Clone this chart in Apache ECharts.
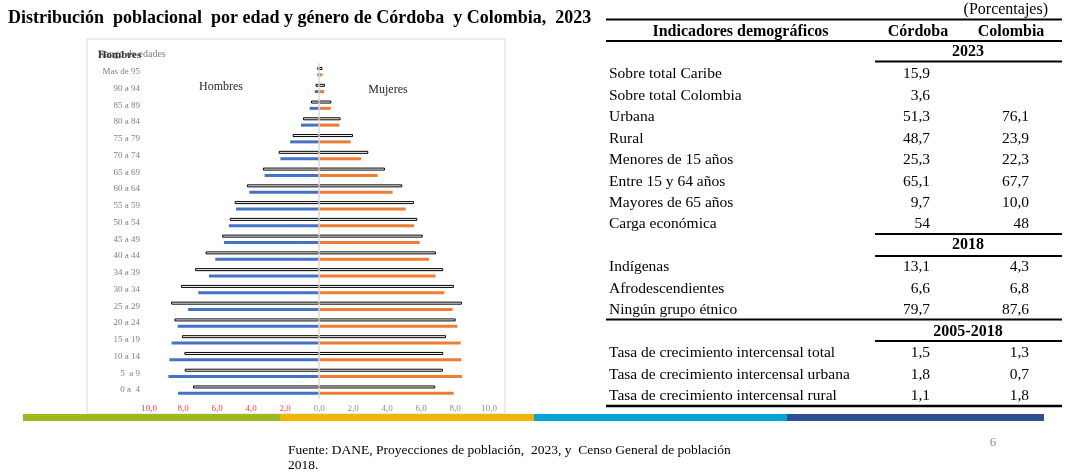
<!DOCTYPE html>
<html>
<head>
<meta charset="utf-8">
<script src="https://cdn.jsdelivr.net/npm/echarts@6/dist/echarts.min.js"></script>
<style>
html,body{margin:0;padding:0;background:#fff;}
#c{width:1076px;height:472px;}
</style>
</head>
<body>
<div id="c"></div>
<script>
// ---- Pyramid data (bottom to top) ----
const ageGroups = ['0 a  4','5  a 9','10 a 14','15 a 19','20 a 24','25 a 29','30 a 34','34 a 39','40 a 44','45 a 49','50 a 54','55 a 59','60 a 64','65 a 69','70 a 74','75 a 79','80 a 84','85 a 89','90 a 94','Mas de 95'];
const menColombia   = [7.41, 7.90, 7.92, 8.06, 8.50, 8.70, 8.12, 7.29, 6.67, 5.70, 5.25, 4.96, 4.24, 3.30, 2.37, 1.55, 0.94, 0.47, 0.20, 0.10];
const menCordoba    = [8.29, 8.86, 8.80, 8.67, 8.31, 7.70, 7.10, 6.47, 6.10, 5.59, 5.30, 4.88, 4.10, 3.20, 2.27, 1.70, 1.06, 0.55, 0.25, 0.10];
const womenColombia = [6.84, 7.29, 7.31, 7.47, 8.04, 8.41, 7.94, 7.31, 6.88, 6.10, 5.78, 5.59, 4.90, 3.88, 2.90, 2.00, 1.27, 0.73, 0.35, 0.20];
const womenCordoba  = [7.92, 8.41, 8.37, 8.33, 8.14, 7.86, 7.37, 6.86, 6.47, 5.92, 5.59, 5.10, 4.33, 3.45, 2.47, 1.86, 1.20, 0.69, 0.30, 0.20];

// ---- Table data ----
const tableHeader = ['Indicadores demográficos', 'Córdoba', 'Colombia'];
const section2023 = '2023';
const rows2023 = ['Sobre total Caribe','Sobre total Colombia','Urbana','Rural','Menores de 15 años','Entre 15 y 64 años','Mayores de 65 años','Carga económica'];
const cordoba2023 = ['15,9','3,6','51,3','48,7','25,3','65,1','9,7','54'];
const colombia2023 = ['','','76,1','23,9','22,3','67,7','10,0','48'];
const section2018 = '2018';
const rows2018 = ['Indígenas','Afrodescendientes','Ningún grupo étnico'];
const cordoba2018 = ['13,1','6,6','79,7'];
const colombia2018 = ['4,3','6,8','87,6'];
const sectionTasa = '2005-2018';
const rowsTasa = ['Tasa de crecimiento intercensal total','Tasa de crecimiento intercensal urbana','Tasa de crecimiento intercensal rural'];
const cordobaTasa = ['1,5','1,8','1,1'];
const colombiaTasa = ['1,3','0,7','1,8'];

const titleText = 'Distribución  poblacional  por edad y género de Córdoba  y Colombia,  2023';
const unitText = '(Porcentajes)';
const sourceLines = ['Fuente: DANE, Proyecciones de población,  2023, y  Censo General de población', '2018.'];
const pageNumber = '6';

// ---- layout ----
const SERIF = '"Liberation Serif", "Times New Roman", serif';
const g = [];
function txt(x, y, s, opt) {
  opt = opt || {};
  g.push({
    type: 'text', x: x, y: y, z: opt.z || 10, silent: true,
    style: {
      text: s,
      font: (opt.weight || 'normal') + ' ' + (opt.size || 15.5) + 'px ' + SERIF,
      fill: opt.color || '#000',
      textAlign: opt.align || 'left', align: opt.align || 'left',
      textVerticalAlign: 'middle', verticalAlign: 'middle'
    }
  });
}
function hline(x1, x2, y, w) {
  g.push({type:'line', z: 10, silent:true, shape:{x1:x1, y1:y, x2:x2, y2:y}, style:{stroke:'#000', lineWidth:w || 2}});
}

// chart frame
g.push({type:'rect', z:-5, silent:true, shape:{x:87, y:39, width:418, height:375}, style:{fill:'#fff', stroke:'#d9d9d9', lineWidth:1}});
// bottom stripes
const stripeColors = ['#9dbb1f', '#f1b400', '#06a5d8', '#2f4f93'];
const stripeX = [23, 280, 534, 787, 1044];
stripeColors.forEach(function(c, i){
  g.push({type:'rect', z:20, silent:true, shape:{x:stripeX[i], y:414, width:stripeX[i+1]-stripeX[i], height:7}, style:{fill:c}});
});

// Title
txt(8, 18, titleText, {weight:'bold', size:18});
// Chart inner texts
txt(98, 54, 'Rango de edades', {size:10, color:'#808080'});
txt(98, 55, 'Hombres', {size:11, weight:'bold', color:'#333'});
txt(221, 87, 'Hombres', {size:12, color:'#262626', align:'center'});
txt(388, 90, 'Mujeres', {size:12, color:'#262626', align:'center'});

// Table
const tL = 606, tR = 1062, secL = 875, labX = 609, corX = 930, colX = 1029, secX = 968;
txt(1048, 10, unitText, {align:'right', size:16});
hline(tL, tR, 19.5, 2);
txt(740.5, 32, tableHeader[0], {weight:'bold', align:'center', size:16});
txt(918, 32, tableHeader[1], {weight:'bold', align:'center', size:16});
txt(1011, 32, tableHeader[2], {weight:'bold', align:'center', size:16});
hline(tL, tR, 41, 2);
txt(secX, 52, section2023, {weight:'bold', align:'center', size:16});
hline(secL, tR, 61.5, 2);
const y2023 = [74, 95.5, 117, 138.5, 160, 181.5, 203, 224];
rows2023.forEach(function(r, i){
  txt(labX, y2023[i], r);
  txt(corX, y2023[i], cordoba2023[i], {align:'right'});
  if (colombia2023[i]) txt(colX, y2023[i], colombia2023[i], {align:'right'});
});
hline(secL, tR, 234, 2);
txt(secX, 245, section2018, {weight:'bold', align:'center', size:16});
hline(secL, tR, 256, 2);
const y2018 = [267, 289, 310];
rows2018.forEach(function(r, i){
  txt(labX, y2018[i], r);
  txt(corX, y2018[i], cordoba2018[i], {align:'right'});
  txt(colX, y2018[i], colombia2018[i], {align:'right'});
});
hline(tL, tR, 319.5, 2);
txt(secX, 331.5, sectionTasa, {weight:'bold', align:'center', size:16});
hline(secL, tR, 341, 2);
const yTasa = [353, 375, 396];
rowsTasa.forEach(function(r, i){
  txt(labX, yTasa[i], r);
  txt(corX, yTasa[i], cordobaTasa[i], {align:'right'});
  txt(colX, yTasa[i], colombiaTasa[i], {align:'right'});
});
hline(tL, tR, 406, 2.5);

// Footer
txt(288, 450, sourceLines[0], {size:13.5});
txt(288, 465, sourceLines[1], {size:13.5});
txt(993, 443, pageNumber, {size:13, color:'#8c8c8c', align:'center'});

const chart = echarts.init(document.getElementById('c'), null, {renderer:'canvas'});
const outlineStyle = {color:'#ffffff', borderColor:'#000000', borderWidth:1};
chart.setOption({
  animation: false,
  backgroundColor: '#fff',
  grid: {left:149, right:587, top:63.3, bottom:73.5, containLabel:false},
  xAxis: {
    type: 'value', min: -10, max: 10, interval: 2,
    axisLine: {show:false}, axisTick: {show:false}, splitLine: {show:false},
    axisLabel: {
      margin: 6,
      formatter: function(v){ return (v < 0 ? '{r|' : '{g|') + Math.abs(v).toFixed(1).replace('.', ',') + '}'; },
      rich: {
        r: {color:'#ff4040', fontSize:9, fontFamily:SERIF},
        g: {color:'#8c8c8c', fontSize:9, fontFamily:SERIF}
      }
    }
  },
  yAxis: {
    type: 'category', data: ageGroups,
    axisLine: {show:false, onZero:false}, axisTick: {show:false},
    axisLabel: {color:'#808080', fontSize:9, fontFamily:SERIF, margin:9}
  },
  series: [
    {name:'Hombres Colombia', type:'bar', stack:'o', barWidth:3, barGap:'110%',
     data: menColombia.map(function(v){return -v;}), itemStyle: outlineStyle,
     markLine: {silent:true, symbol:'none', label:{show:false}, lineStyle:{color:'#d9d9d9', width:1.5, type:'solid'}, data:[{xAxis:0}]}},
    {name:'Hombres Córdoba', type:'bar', stack:'f', barWidth:3, barGap:'110%',
     data: menCordoba.map(function(v){return -v;}), itemStyle:{color:'#4472c4'}},
    {name:'Mujeres Colombia', type:'bar', stack:'o', barWidth:3, barGap:'110%',
     data: womenColombia, itemStyle: outlineStyle},
    {name:'Mujeres Córdoba', type:'bar', stack:'f', barWidth:3, barGap:'110%',
     data: womenCordoba, itemStyle:{color:'#ed7d31'}}
  ],
  graphic: {elements: g}
});
</script>
</body>
</html>
